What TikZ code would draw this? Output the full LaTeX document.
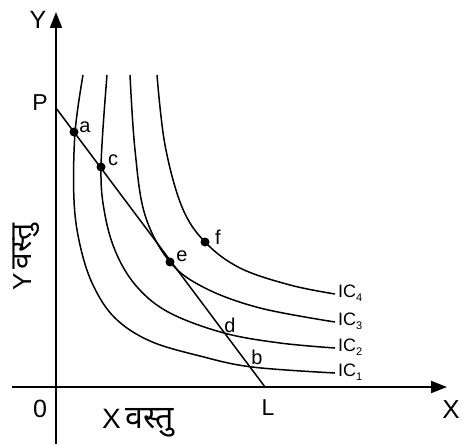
\documentclass[tikz,border=0pt]{standalone}
\usepackage{fontspec}
\setmainfont{Liberation Sans}
\newfontfamily\dev[Script=Devanagari,Scale=1.15]{Noto Sans}
\usetikzlibrary{arrows.meta}
\begin{document}
\begin{tikzpicture}[x=1pt,y=-1pt,
  axis/.style={line width=2pt,-{Triangle[length=16pt,width=12pt]}},
  curve/.style={line width=1.5pt},
  dot/.style={circle,fill=black,inner sep=0pt,minimum size=9pt},
  lbl/.style={inner sep=0pt,font=\fontsize{20}{20}\selectfont},
  big/.style={inner sep=0pt,font=\fontsize{25}{25}\selectfont},
  iclbl/.style={inner sep=0pt,anchor=west,font=\fontsize{18}{18}\selectfont}]
\useasboundingbox (0,0) rectangle (462,444);
% axes
\coordinate (yb) at (56,444);
\coordinate (yt) at (56,12);
\coordinate (xl) at (12,387);
\coordinate (xr) at (447,387);
\draw[axis] (yb) -- (yt);
\draw[axis] (xl) -- (xr);
% indifference curves
\draw[curve] plot[smooth,tension=0.6] coordinates {(83,75) (75,133) (74,200) (80,245) (93,285) (115,318) (150,341) (200,356) (252,367) (335,373)};
\draw[curve] plot[smooth,tension=0.6] coordinates {(107,75) (101,167) (105,215) (117,255) (138,288) (170,313) (224,333) (280,343) (335,348)};
\draw[curve] plot[smooth,tension=0.6] coordinates {(130,75) (135,150) (145,215) (170,262) (205,288) (260,308) (335,322)};
\draw[curve] plot[smooth,tension=0.6] coordinates {(157,75) (165,145) (182,207) (205,242) (240,268) (290,285) (335,294)};
% budget line
\coordinate (P) at (56,108);
\coordinate (L) at (265,387);
\draw[curve] (P) -- (L);
% points
\node[dot] (pa) at (74,132) {};
\node[dot] (pc) at (101,167) {};
\node[dot] (pe) at (170,262) {};
\node[dot] (pf) at (205,242) {};
% labels
\node[big] (ly) at (38,20) {Y};
\node[lbl,font=\fontsize{23}{23}\selectfont] (lp) at (40,103) {P};
\node[lbl] (la) at (85,127) {a};
\node[lbl] (lc) at (113,160) {c};
\node[lbl] (le) at (182,256) {e};
\node[lbl] (lf) at (218,237) {f};
\node[lbl] (ld) at (230,325) {d};
\node[lbl] (lb) at (257,357) {b};
\node[big] (l0) at (40,409) {0};
\node[lbl,font=\fontsize{23}{23}\selectfont] (lL) at (268,408) {L};
\node[big,font=\fontsize{26}{26}\selectfont] (lX) at (451,410) {X};
\node[big,font=\fontsize{28}{28}\selectfont,anchor=base west] (lxg) at (102,428) {X\,{\dev वस्तु}};
\node[big,font=\fontsize{26}{26}\selectfont,rotate=90,anchor=base west] (lyg) at (31,291) {Y\,{\dev वस्तु}};
\node[iclbl] (ic4) at (338,293) {IC\raisebox{-0.45ex}{\fontsize{11}{11}\selectfont 4}};
\node[iclbl] (ic3) at (338,321) {IC\raisebox{-0.45ex}{\fontsize{11}{11}\selectfont 3}};
\node[iclbl] (ic2) at (338,347) {IC\raisebox{-0.45ex}{\fontsize{11}{11}\selectfont 2}};
\node[iclbl] (ic1) at (338,372) {IC\raisebox{-0.45ex}{\fontsize{11}{11}\selectfont 1}};
\end{tikzpicture}
\end{document}
